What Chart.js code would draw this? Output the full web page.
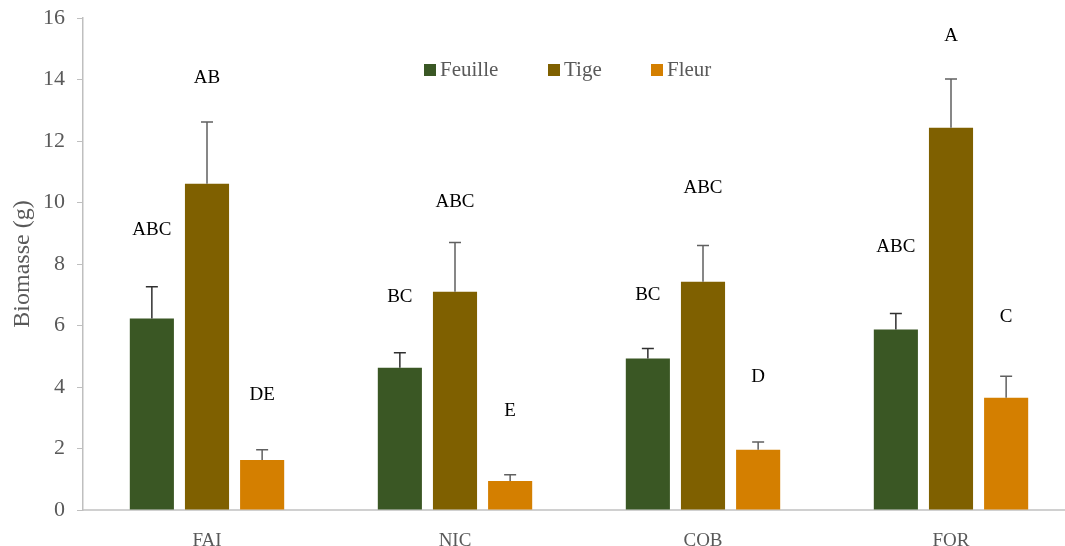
<!doctype html>
<html>
<head>
	<title>Biomasse</title>
	<script src="https://cdn.jsdelivr.net/npm/chart.js@4/dist/chart.umd.min.js"></script>
	<style>
	html, body { margin: 0; padding: 0; overflow: hidden; background: #fff; }
	#wrap { width: 1075px; height: 546px; }
	</style>
</head>
<body>
	<div id="wrap"><canvas id="canvas"></canvas></div>
	<script>
		var categories = ['FAI', 'NIC', 'COB', 'FOR'];
		var feuille = [6.23, 4.63, 4.93, 5.87];
		var tige = [10.61, 7.10, 7.42, 12.43];
		var fleur = [1.63, 0.94, 1.96, 3.65];
		// upper error (sd)
		var errFeuille = [1.03, 0.48, 0.32, 0.52];
		var errTige = [2.01, 1.60, 1.18, 1.59];
		var errFleur = [0.33, 0.21, 0.25, 0.70];
		// significance letters and their heights (in g)
		var lettersFeuille = ['ABC', 'BC', 'BC', 'ABC'];
		var lettersTige = ['AB', 'ABC', 'ABC', 'A'];
		var lettersFleur = ['DE', 'E', 'D', 'C'];
		var letterYFeuille = [9.1, 6.93, 6.99, 8.56];
		var letterYTige = [14.06, 10.02, 10.47, 15.4];
		var letterYFleur = [3.73, 3.22, 4.33, 6.27];

		var serif = "'Liberation Serif', 'DejaVu Serif', serif";
		var grey = '#595959';

		var extras = {
			id: 'extras',
			afterDatasetsDraw: function(chart) {
				var ctx = chart.ctx;
				var y = chart.scales.y;
				chart.data.datasets.forEach(function(ds, i) {
					var meta = chart.getDatasetMeta(i);
					meta.data.forEach(function(bar, j) {
						var top = y.getPixelForValue(ds.data[j] + ds.err[j]);
						ctx.save();
						ctx.strokeStyle = i === 0 ? '#303030' : '#606060';
						ctx.lineWidth = 1.5;
						ctx.beginPath();
						ctx.moveTo(bar.x, bar.y);
						ctx.lineTo(bar.x, top);
						ctx.moveTo(bar.x - 6, top);
						ctx.lineTo(bar.x + 6, top);
						ctx.stroke();
						ctx.fillStyle = '#000';
						ctx.font = '19px ' + serif;
						ctx.textAlign = 'center';
						ctx.textBaseline = 'middle';
						ctx.fillText(ds.letters[j], bar.x, y.getPixelForValue(ds.letterY[j]));
						ctx.restore();
					});
				});
				// legend inside plot
				var items = chart.data.datasets;
				var xs = [424, 548, 651];
				ctx.save();
				ctx.font = '21px ' + serif;
				ctx.textBaseline = 'middle';
				items.forEach(function(ds, i) {
					ctx.fillStyle = ds.backgroundColor;
					ctx.fillRect(xs[i], 64, 12, 12);
					ctx.fillStyle = grey;
					ctx.fillText(ds.label, xs[i] + 16, 70);
				});
				ctx.restore();
			}
		};

		window.onload = function() {
			var ctx = document.getElementById('canvas').getContext('2d');
			new Chart(ctx, {
				type: 'bar',
				data: {
					labels: categories,
					datasets: [{
						label: 'Feuille', data: feuille, err: errFeuille,
						letters: lettersFeuille, letterY: letterYFeuille,
						backgroundColor: '#3a5724'
					}, {
						label: 'Tige', data: tige, err: errTige,
						letters: lettersTige, letterY: letterYTige,
						backgroundColor: '#7f6000'
					}, {
						label: 'Fleur', data: fleur, err: errFleur,
						letters: lettersFleur, letterY: letterYFleur,
						backgroundColor: '#d47f00'
					}]
				},
				options: {
					responsive: true,
					maintainAspectRatio: false,
					animation: false,
					layout: { padding: { top: 18, bottom: 0, left: 0, right: 0 } },
					datasets: { bar: { categoryPercentage: 0.667, barPercentage: 0.8 } },
					plugins: { legend: { display: false }, tooltip: { enabled: false } },
					scales: {
						x: {
							grid: { display: false },
							border: { color: '#d0d0d0', width: 2 },
							ticks: { color: grey, font: { family: serif, size: 19 }, padding: 12 },
							afterFit: function(s) { s.height = 36; s.paddingLeft = 0; s.paddingRight = 0; }
						},
						y: {
							min: 0, max: 16,
							ticks: { stepSize: 2, color: grey, font: { family: serif, size: 22 }, padding: 12 },
							grid: { drawOnChartArea: false, drawTicks: true, tickLength: 6, color: '#bfbfbf' },
							border: { color: '#bfbfbf', width: 1.5 },
							title: { display: true, text: 'Biomasse (g)', color: grey, font: { family: serif, size: 24 }, padding: { top: 8, bottom: 0 } },
							afterFit: function(s) { s.width = 83; s.paddingTop = 0; s.paddingBottom = 0; }
						}
					}
				},
				plugins: [extras]
			});
		};
	</script>
</body>
</html>
